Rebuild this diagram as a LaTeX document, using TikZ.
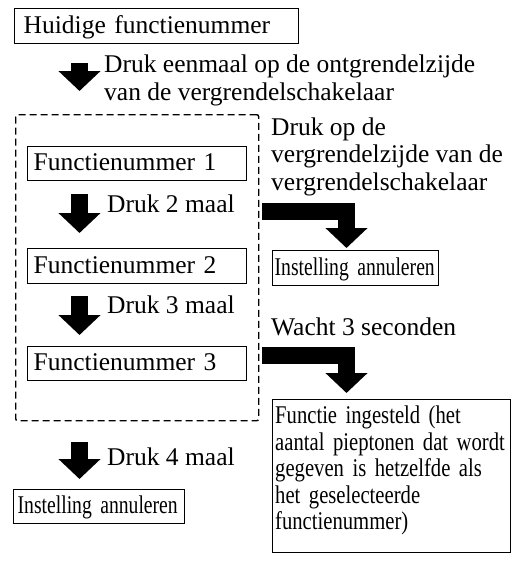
\documentclass[tikz,border=0pt]{standalone}
\usepackage{fontspec}
\setmainfont{Liberation Serif}
\newfontfamily\narrowfont[FakeStretch=0.77,WordSpace=0.8]{Liberation Serif}
\newfontfamily\semifont[FakeStretch=0.81,WordSpace=0.8]{Liberation Serif}
\usetikzlibrary{arrows.meta}

\tikzset{
  box/.style={draw,line width=1.4pt,anchor=north west,inner ysep=0pt,
    text height=19pt,text depth=5pt,align=left},
  txt/.style={anchor=base west,inner sep=0pt,align=left},
  blk/.style={line width=17pt,line join=miter,
    -{Triangle[width=41pt,length=20pt]}}
}

\begin{document}
\begin{tikzpicture}[x=1pt,y=-1pt,font=\fontsize{25.5}{27.5}\selectfont]
\useasboundingbox (0,0) rectangle (519,565);
\node[box,inner xsep=9pt,text width=266pt,minimum height=35pt] (a0) at (14,8) {Huidige functienummer};
% multi-line texts: base is the last line
\node[txt,font=\fontsize{25.5}{28}\selectfont] (t0) at (104,100) {Druk eenmaal op de ontgrendelzijde\\van de vergrendelschakelaar};
\node[draw,line width=1.4pt,dash pattern=on 7pt off 4pt,rounded corners=2pt,anchor=north west,
  inner sep=0pt,minimum width=243pt,minimum height=306pt] (grp) at (15,114) {};
\node[box,inner xsep=6pt,text width=207pt,minimum height=34pt] (a1) at (27,146) {Functienummer 1};
\node[txt] (t1) at (107,212) {Druk 2 maal};
\node[box,inner xsep=6pt,text width=207pt,minimum height=35pt] (a2) at (27,248) {Functienummer 2};
\node[txt] (t2) at (107,313) {Druk 3 maal};
\node[box,inner xsep=6pt,text width=207pt,minimum height=34pt] (a3) at (27,346) {Functienummer 3};
\node[txt] (t3) at (107,465) {Druk 4 maal};
\node[box,font=\fontsize{25.5}{27.5}\narrowfont,inner xsep=4pt,text width=163pt,minimum height=34pt] (c2) at (13,489) {\mbox{Instelling annuleren}};
\node[txt] (t4) at (271,190) {Druk op de\\vergrendelzijde van de\\vergrendelschakelaar};
\node[box,font=\fontsize{25.5}{27.5}\narrowfont,inner xsep=2pt,text width=162pt,minimum height=35pt] (c1) at (272,250) {\mbox{Instelling annuleren}};
\node[txt] (t5) at (271,335) {Wacht 3 seconden};
\node[box,font=\fontsize{25.5}{26.5}\semifont,inner xsep=2.5pt,text width=233pt,text height=24pt,text depth=129pt] (s1) at (272,399)
  {\mbox{Functie ingesteld (het}\\\mbox{aantal pieptonen dat wordt}\\\mbox{gegeven is hetzelfde als}\\\mbox{het geselecteerde}\\\mbox{functienummer)}};
% block arrows
\coordinate (p1) at (79.5,63);  \coordinate (q1) at (79.5,91);
\coordinate (p2) at (79.5,194); \coordinate (q2) at (79.5,233);
\coordinate (p3) at (79.5,296); \coordinate (q3) at (79.5,335);
\coordinate (p4) at (79.5,442); \coordinate (q4) at (79.5,479);
\coordinate (r1) at (262,211);  \coordinate (m1) at (346.5,211); \coordinate (e1) at (346.5,248);
\coordinate (r2) at (262,355);  \coordinate (m2) at (346.5,355); \coordinate (e2) at (346.5,393);
\draw[blk] (p1) -- (q1);
\draw[blk] (p2) -- (q2);
\draw[blk] (p3) -- (q3);
\draw[blk] (p4) -- (q4);
\draw[blk] (r1) -- (m1) -- (e1);
\draw[blk] (r2) -- (m2) -- (e2);
\end{tikzpicture}
\end{document}
